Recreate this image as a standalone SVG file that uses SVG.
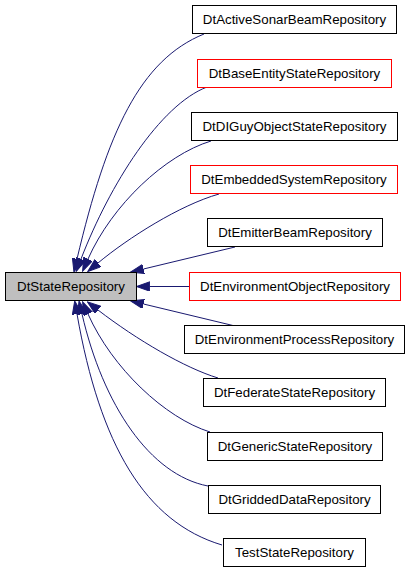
<svg xmlns="http://www.w3.org/2000/svg" width="411" height="573" viewBox="0 0 411 573">
<style>
.n rect{fill:#ffffff;stroke:#000000;stroke-width:1}
.n.red rect{stroke:#ff0000}
.n.main rect{fill:#bfbfbf}
.n text{font-family:"Liberation Sans",Arial,Helvetica,sans-serif;font-size:13.3px;fill:#000000;text-anchor:middle}
.e path{fill:none;stroke:#191970;stroke-width:1;marker-end:url(#ah)}
</style>
<defs>
<marker id="ah" markerUnits="userSpaceOnUse" markerWidth="14" markerHeight="10" refX="0" refY="4.7" orient="auto">
<path d="M0,0 L13.3,4.7 L0,9.4 z" fill="#191970" stroke="#191970" stroke-width="1"/>
</marker>
</defs>
<rect width="411" height="573" fill="#ffffff"/>
<g id="edges" class="e">
<path d="M204,34 C140,60 107,132 77,259"/>
<path d="M207,87 C160,105 110,184 81,259"/>
<path d="M211,141 C165,155 112,205 88,259"/>
<path d="M219,194 C180,205 128,238 98,263"/>
<path d="M235,247 L143.5,269"/>
<path d="M189,286.5 L149.8,286.5"/>
<path d="M235,326 L143.5,304"/>
<path d="M218,378 C185,368 137,340 98,310"/>
<path d="M210,432 C165,418 112,368 88,314"/>
<path d="M208,486 C150,475 103,405 82,314"/>
<path d="M222,545 C145,522 100,445 77,314"/>
</g>
<g id="DtStateRepository" class="n main"><rect x="5.5" y="272.5" width="131" height="28"/><text x="71" y="291">DtStateRepository</text></g>
<g id="DtActiveSonarBeamRepository" class="n"><rect x="192.5" y="5.5" width="204" height="28"/><text x="294.5" y="24">DtActiveSonarBeamRepository</text></g>
<g id="DtBaseEntityStateRepository" class="n red"><rect x="197.5" y="59.5" width="194" height="28"/><text x="294.5" y="78">DtBaseEntityStateRepository</text></g>
<g id="DtDIGuyObjectStateRepository" class="n"><rect x="191.5" y="112.5" width="206" height="28"/><text x="294.5" y="131">DtDIGuyObjectStateRepository</text></g>
<g id="DtEmbeddedSystemRepository" class="n red"><rect x="190.5" y="165.5" width="207" height="28"/><text x="294" y="184">DtEmbeddedSystemRepository</text></g>
<g id="DtEmitterBeamRepository" class="n"><rect x="207.5" y="218.5" width="175" height="28"/><text x="295" y="237">DtEmitterBeamRepository</text></g>
<g id="DtEnvironmentObjectRepository" class="n red"><rect x="189.5" y="272.5" width="211" height="28"/><text x="295" y="291">DtEnvironmentObjectRepository</text></g>
<g id="DtEnvironmentProcessRepository" class="n"><rect x="184.5" y="325.5" width="220" height="28"/><text x="294.5" y="344">DtEnvironmentProcessRepository</text></g>
<g id="DtFederateStateRepository" class="n"><rect x="203.5" y="378.5" width="182" height="28"/><text x="294.5" y="397">DtFederateStateRepository</text></g>
<g id="DtGenericStateRepository" class="n"><rect x="207.5" y="432.5" width="175" height="28"/><text x="295" y="451">DtGenericStateRepository</text></g>
<g id="DtGriddedDataRepository" class="n"><rect x="208.5" y="485.5" width="172" height="28"/><text x="294.5" y="504">DtGriddedDataRepository</text></g>
<g id="TestStateRepository" class="n"><rect x="223.5" y="538.5" width="142" height="28"/><text x="294.5" y="557">TestStateRepository</text></g>
</svg>
